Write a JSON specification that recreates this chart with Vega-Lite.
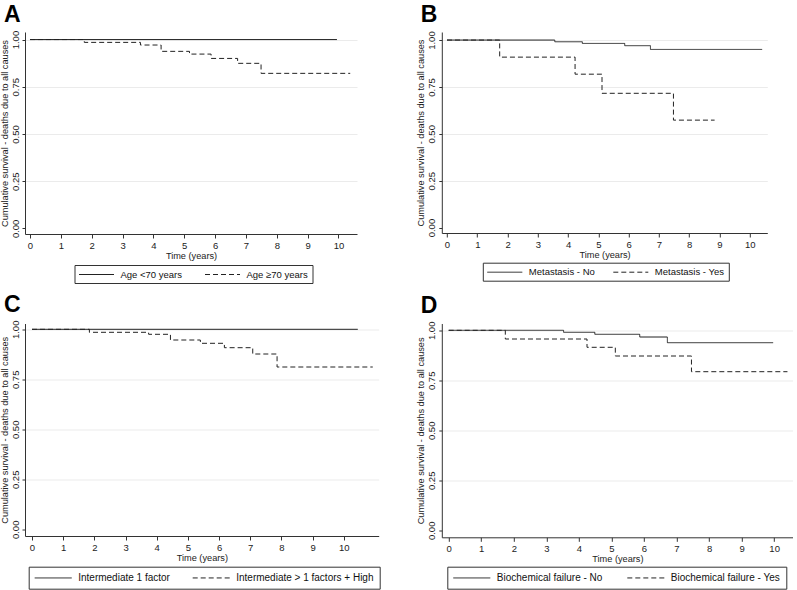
{
  "$schema": "https://vega.github.io/schema/vega-lite/v6.json",
  "background": "white",
  "padding": {"left": 0, "top": 3, "right": 0, "bottom": 0},
  "config": {
    "font": "Liberation Sans",
    "view": {"stroke": null},
    "axis": {
      "domainColor": "#333",
      "tickColor": "#333",
      "labelColor": "#222",
      "titleColor": "#222",
      "labelFont": "Liberation Sans",
      "titleFont": "Liberation Sans",
      "titleFontWeight": "normal",
      "labelFontSize": 9.5,
      "titleFontSize": 9.2,
      "tickSize": 3,
      "labelPadding": 2
    },
    "axisX": {"grid": false, "titlePadding": 2, "tickSize": 4},
    "axisY": {
      "grid": true,
      "gridColor": {"condition": {"test": "datum.value === 0", "value": "transparent"}, "value": "#ebebeb"},
      "labelAngle": 270,
      "titlePadding": 1
    },
    "legend": {
      "orient": "none",
      "direction": "horizontal",
      "title": null,
      "strokeColor": "#333",
      "padding": 4,
      "symbolType": "M-3.5,0H3.5",
      "symbolSize": 100,
      "symbolOffset": 12.5,
      "symbolStrokeWidth": 1,
      "symbolStrokeColor": "#222",
      "symbolFillColor": "transparent",
      "labelFont": "Liberation Sans",
      "labelFontSize": 9.5,
      "labelColor": "#111",
      "labelOffset": 18.5,
      "columnPadding": 20
    },
    "title": {
      "anchor": "start",
      "frame": "group",
      "dx": -21,
      "fontSize": 23,
      "fontWeight": "bold",
      "font": "Liberation Sans",
      "color": "#000",
      "offset": 3.5
    },
    "line": {"interpolate": "step-after", "strokeWidth": 1, "color": "#222"}
  },
  "datasets": {
    "A": [
      {"group": "Age <70 years", "time": 0, "surv": 1},
      {"group": "Age <70 years", "time": 9.95, "surv": 1},
      {"group": "Age ≥70 years", "time": 0, "surv": 1},
      {"group": "Age ≥70 years", "time": 1.76, "surv": 0.985},
      {"group": "Age ≥70 years", "time": 3.58, "surv": 0.971},
      {"group": "Age ≥70 years", "time": 4.25, "surv": 0.9375},
      {"group": "Age ≥70 years", "time": 5.17, "surv": 0.923},
      {"group": "Age ≥70 years", "time": 5.87, "surv": 0.9},
      {"group": "Age ≥70 years", "time": 6.73, "surv": 0.874},
      {"group": "Age ≥70 years", "time": 7.49, "surv": 0.821},
      {"group": "Age ≥70 years", "time": 10.38, "surv": 0.821}
    ],
    "B": [
      {"group": "Metastasis - No", "time": 0, "surv": 1},
      {"group": "Metastasis - No", "time": 3.56, "surv": 0.991},
      {"group": "Metastasis - No", "time": 4.47, "surv": 0.982},
      {"group": "Metastasis - No", "time": 5.87, "surv": 0.97},
      {"group": "Metastasis - No", "time": 6.72, "surv": 0.95},
      {"group": "Metastasis - No", "time": 10.41, "surv": 0.95},
      {"group": "Metastasis - Yes", "time": 0, "surv": 1},
      {"group": "Metastasis - Yes", "time": 1.74, "surv": 0.909},
      {"group": "Metastasis - Yes", "time": 4.23, "surv": 0.818},
      {"group": "Metastasis - Yes", "time": 5.12, "surv": 0.716},
      {"group": "Metastasis - Yes", "time": 7.48, "surv": 0.573},
      {"group": "Metastasis - Yes", "time": 8.84, "surv": 0.573}
    ],
    "C": [
      {"group": "Intermediate 1 factor", "time": 0, "surv": 1},
      {"group": "Intermediate 1 factor", "time": 10.45, "surv": 1},
      {"group": "Intermediate > 1 factors + High", "time": 0, "surv": 1},
      {"group": "Intermediate > 1 factors + High", "time": 1.84, "surv": 0.985},
      {"group": "Intermediate > 1 factors + High", "time": 3.74, "surv": 0.975},
      {"group": "Intermediate > 1 factors + High", "time": 4.44, "surv": 0.9465},
      {"group": "Intermediate > 1 factors + High", "time": 5.4, "surv": 0.93},
      {"group": "Intermediate > 1 factors + High", "time": 6.17, "surv": 0.908},
      {"group": "Intermediate > 1 factors + High", "time": 7.08, "surv": 0.8765},
      {"group": "Intermediate > 1 factors + High", "time": 7.86, "surv": 0.8115},
      {"group": "Intermediate > 1 factors + High", "time": 10.93, "surv": 0.8115}
    ],
    "D": [
      {"group": "Biochemical failure - No", "time": 0, "surv": 1},
      {"group": "Biochemical failure - No", "time": 3.53, "surv": 0.99},
      {"group": "Biochemical failure - No", "time": 4.49, "surv": 0.98},
      {"group": "Biochemical failure - No", "time": 5.87, "surv": 0.9665},
      {"group": "Biochemical failure - No", "time": 6.72, "surv": 0.938},
      {"group": "Biochemical failure - No", "time": 9.97, "surv": 0.938},
      {"group": "Biochemical failure - Yes", "time": 0, "surv": 1},
      {"group": "Biochemical failure - Yes", "time": 1.74, "surv": 0.9565},
      {"group": "Biochemical failure - Yes", "time": 4.25, "surv": 0.915},
      {"group": "Biochemical failure - Yes", "time": 5.12, "surv": 0.8715},
      {"group": "Biochemical failure - Yes", "time": 7.46, "surv": 0.793},
      {"group": "Biochemical failure - Yes", "time": 10.41, "surv": 0.793}
    ]
  },
  "columns": 2,
  "bounds": "flush",
  "align": "all",
  "spacing": {"row": 77.5, "column": 62.8},
  "resolve": {
    "scale": {"x": "independent", "y": "independent", "strokeDash": "independent"},
    "legend": {"strokeDash": "independent"}
  },
  "concat": [
    {
      "title": {"text": "A"},
      "width": 332,
      "height": 202,
      "data": {"name": "A"},
      "mark": {"type": "line"},
      "encoding": {
        "x": {"field": "time", "type": "quantitative", "title": "Time (years)",
          "scale": {"domain": [-0.162, 10.6], "nice": false, "zero": false},
          "axis": {"values": [0,1,2,3,4,5,6,7,8,9,10]}},
        "y": {"field": "surv", "type": "quantitative", "title": "Cumulative survival - deaths due to all causes",
          "scale": {"domain": [-0.03, 1.04], "nice": false, "zero": false},
          "axis": {"values": [0, 0.25, 0.5, 0.75, 1], "format": ".2f"}},
        "strokeDash": {"field": "group", "type": "nominal",
          "scale": {"domain": ["Age <70 years", "Age ≥70 years"], "range": [[1, 0], [5, 3]]},
          "legend": {"legendX": 49.5, "legendY": 233}}
      }
    },
    {
      "title": {"text": "B"},
      "width": 325.5,
      "height": 201,
      "data": {"name": "B"},
      "mark": {"type": "line"},
      "encoding": {
        "x": {"field": "time", "type": "quantitative", "title": "Time (years)",
          "scale": {"domain": [-0.172, 10.58], "nice": false, "zero": false},
          "axis": {"values": [0,1,2,3,4,5,6,7,8,9,10]}},
        "y": {"field": "surv", "type": "quantitative", "title": "Cumulative survival - deaths due to all causes",
          "scale": {"domain": [-0.029, 1.043], "nice": false, "zero": false},
          "axis": {"values": [0, 0.25, 0.5, 0.75, 1], "format": ".2f"}},
        "strokeDash": {"field": "group", "type": "nominal",
          "scale": {"domain": ["Metastasis - No", "Metastasis - Yes"], "range": [[1, 0], [5, 3]]},
          "legend": {"legendX": 41, "legendY": 230.7, "columnPadding": 16}}
      }
    },
    {
      "title": {"text": "C"},
      "width": 353.7,
      "height": 212.5,
      "data": {"name": "C"},
      "mark": {"type": "line"},
      "encoding": {
        "x": {"field": "time", "type": "quantitative", "title": "Time (years)",
          "scale": {"domain": [-0.225, 11.12], "nice": false, "zero": false},
          "axis": {"values": [0,1,2,3,4,5,6,7,8,9,10]}},
        "y": {"field": "surv", "type": "quantitative", "title": "Cumulative survival - deaths due to all causes",
          "scale": {"domain": [-0.0335, 1.029], "nice": false, "zero": false},
          "axis": {"values": [0, 0.25, 0.5, 0.75, 1], "format": ".2f"}},
        "strokeDash": {"field": "group", "type": "nominal",
          "scale": {"domain": ["Intermediate 1 factor", "Intermediate > 1 factors + High"], "range": [[1, 0], [5, 3]]},
          "legend": {"legendX": 3.7, "legendY": 243.2, "labelFontSize": 10, "padding": 5.5,
            "symbolType": "M-3.7,0H3.7", "symbolOffset": 13.5, "labelOffset": 19.5}}
      }
    },
    {
      "title": {"text": "D"},
      "width": 351.2,
      "height": 213.8,
      "data": {"name": "D"},
      "mark": {"type": "line"},
      "encoding": {
        "x": {"field": "time", "type": "quantitative", "title": "Time (years)",
          "scale": {"domain": [-0.212, 10.58], "nice": false, "zero": false},
          "axis": {"values": [0,1,2,3,4,5,6,7,8,9,10]}},
        "y": {"field": "surv", "type": "quantitative", "title": "Cumulative survival - deaths due to all causes",
          "scale": {"domain": [-0.035, 1.034], "nice": false, "zero": false},
          "axis": {"values": [0, 0.25, 0.5, 0.75, 1], "format": ".2f"}},
        "strokeDash": {"field": "group", "type": "nominal",
          "scale": {"domain": ["Biochemical failure - No", "Biochemical failure - Yes"], "range": [[1, 0], [5, 3]]},
          "legend": {"legendX": 5.5, "legendY": 243.2, "labelFontSize": 10, "padding": 5.5,
            "symbolType": "M-3.7,0H3.7", "symbolOffset": 13.5, "labelOffset": 19.5, "columnPadding": 22}}
      }
    }
  ]
}
